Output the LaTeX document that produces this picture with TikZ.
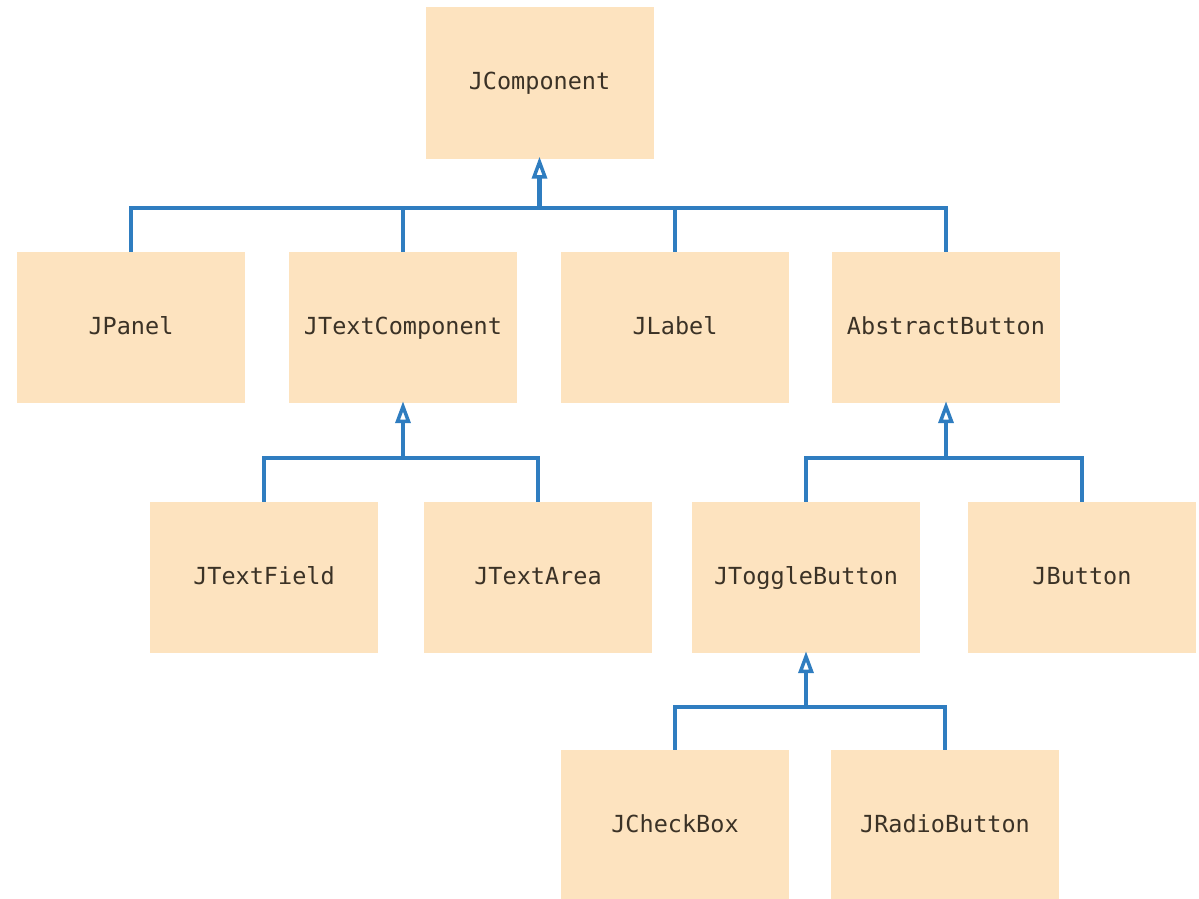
\documentclass[tikz,border=0pt]{standalone}
\usepackage{fontspec}
\newfontfamily\codefont{DejaVu Sans Mono}
\usetikzlibrary{arrows.meta}
\definecolor{boxfill}{HTML}{FDE3BF}
\definecolor{linkblue}{HTML}{2F7DC0}
\definecolor{classtext}{HTML}{3B3226}
\begin{document}
\begin{tikzpicture}[x=1pt,y=-1pt,
  cls/.style={fill=boxfill, draw=none, minimum width=228pt, minimum height=151pt,
    inner sep=0pt, text height=16pt, text depth=3pt, text=classtext,
    font=\codefont\fontsize{23.5}{27}\selectfont},
  link/.style={draw=linkblue, line width=3.5pt},
  inherit/.style={link, line width=4.5pt, shorten >=-2pt,
    -{Triangle[open, fill=white, length=22pt, width=15pt, line width=3.5pt]}}]
\useasboundingbox (0,0) rectangle (1199,899);
\clip (0,0) rectangle (1199,899);

% class boxes
\node[cls] (JComponent) at (539.5,83) {JComponent};
\node[cls] (JPanel) at (131,327.5) {JPanel};
\node[cls] (JTextComponent) at (403,327.5) {JTextComponent};
\node[cls] (JLabel) at (675,327.5) {JLabel};
\node[cls] (AbstractButton) at (946,327.5) {AbstractButton};
\node[cls] (JTextField) at (264,577.5) {JTextField};
\node[cls] (JTextArea) at (538,577.5) {JTextArea};
\node[cls] (JToggleButton) at (806,577.5) {JToggleButton};
\node[cls] (JButton) at (1082,577.5) {JButton};
\node[cls] (JCheckBox) at (675,825.5) {JCheckBox};
\node[cls] (JRadioButton) at (945,825.5) {JRadioButton};

% junction points of the inheritance buses
\coordinate (b1) at (539.5,208);
\coordinate (b2) at (403,458);
\coordinate (b3) at (946,458);
\coordinate (b4) at (806,707);

% JComponent subclasses
\draw[link] (JPanel.north) |- (b1) -| (AbstractButton.north);
\draw[link] (JTextComponent.north) -- (JTextComponent.north |- b1);
\draw[link] (JLabel.north) -- (JLabel.north |- b1);
\draw[inherit] (b1) -- (JComponent.south);

% JTextComponent subclasses
\draw[link] (JTextField.north) |- (b2) -| (JTextArea.north);
\draw[inherit] (b2) -- (JTextComponent.south);

% AbstractButton subclasses
\draw[link] (JToggleButton.north) |- (b3) -| (JButton.north);
\draw[inherit] (b3) -- (AbstractButton.south);

% JToggleButton subclasses
\draw[link] (JCheckBox.north) |- (b4) -| (JRadioButton.north);
\draw[inherit] (b4) -- (JToggleButton.south);
\end{tikzpicture}
\end{document}
